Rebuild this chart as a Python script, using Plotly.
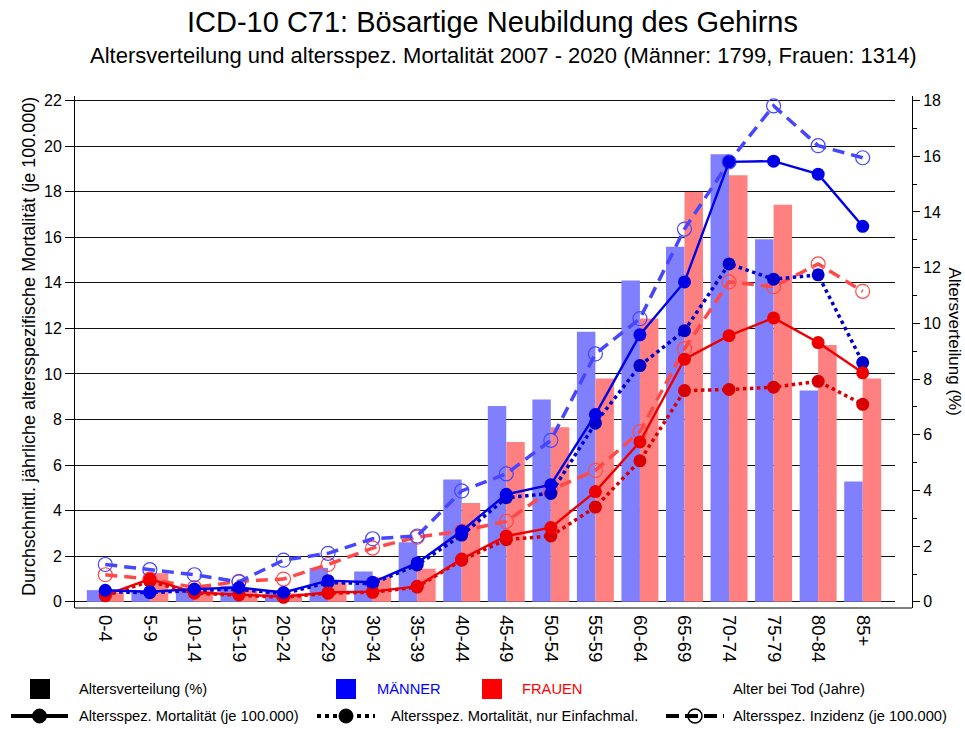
import plotly.graph_objects as go

categories = ["0-4", "5-9", "10-14", "15-19", "20-24", "25-29", "30-34", "35-39", "40-44",
              "45-49", "50-54", "55-59", "60-64", "65-69", "70-74", "75-79", "80-84", "85+"]

# Altersverteilung (%) - right axis
men_dist = [0.42, 0.38, 0.39, 0.58, 0.42, 1.22, 1.09, 2.14, 4.39, 7.03, 7.27, 9.70, 11.54, 12.75, 16.07, 13.02, 7.59, 4.32]
women_dist = [0.33, 1.03, 0.52, 0.45, 0.30, 0.70, 0.89, 1.19, 3.55, 5.74, 6.27, 8.02, 10.17, 14.72, 15.32, 14.26, 9.22, 8.02]

# Altersspez. Mortalitaet (je 100.000) - left axis
men_mort = [0.51, 0.44, 0.56, 0.63, 0.41, 0.93, 0.86, 1.71, 3.11, 4.72, 5.14, 8.22, 11.72, 14.04, 19.31, 19.34, 18.77, 16.48]
women_mort = [0.30, 1.00, 0.41, 0.33, 0.23, 0.41, 0.45, 0.68, 1.88, 2.89, 3.26, 4.84, 7.02, 10.65, 11.68, 12.46, 11.38, 10.05]

# Altersspez. Mortalitaet, nur Einfachmal.
men_single = [0.45, 0.40, 0.50, 0.55, 0.36, 0.85, 0.80, 1.62, 2.93, 4.57, 4.76, 7.84, 10.37, 11.90, 14.83, 14.16, 14.35, 10.50]
women_single = [0.27, 0.90, 0.38, 0.30, 0.20, 0.38, 0.42, 0.65, 1.83, 2.73, 2.89, 4.16, 6.19, 9.27, 9.32, 9.42, 9.68, 8.67]

# Altersspez. Inzidenz (je 100.000)
men_inc = [1.64, 1.41, 1.19, 0.88, 1.83, 2.13, 2.77, 2.89, 4.87, 5.62, 7.09, 10.88, 12.43, 16.36, 19.31, 21.77, 20.02, 19.49]
women_inc = [1.19, 1.00, 0.63, 0.90, 1.00, 1.64, 2.36, 2.84, 3.11, 3.53, 4.91, 5.77, 7.47, 11.11, 14.04, 13.83, 14.83, 13.63]

left_ticks = list(range(0, 23, 2))
right_ticks = list(range(0, 19, 2))

FONT = "Arial, Liberation Sans, sans-serif"
W, H = 965, 729
# plot area in window pixels: x 75..912, y 96..608
L = 75
R = W - 912
T = 96
B = H - 608
PW, PH = W - L - R, H - T - B


def px(xw):
    return (xw - 75) / PW


def py(yw):
    return (608 - yw) / PH


BLUE_BAR, RED_BAR = "#8080FF", "#FF8080"
BLUE, RED = "#0000E6", "#EE0000"
BLUE_DOT, RED_DOT = "#0000CC", "#D80000"
BLUE_DASH, RED_DASH = "#4646FF", "#FF4848"

fig = go.Figure()
fig.add_trace(go.Bar(x=categories, y=men_dist, marker=dict(color=BLUE_BAR, line=dict(width=0)),
                     yaxis="y", name="Männer"))
fig.add_trace(go.Bar(x=categories, y=women_dist, marker=dict(color=RED_BAR, line=dict(width=0)),
                     yaxis="y", name="Frauen"))


def line(y, color, dash, width, symbol, msize, mline):
    return go.Scatter(x=categories, y=y, yaxis="y2", mode="lines+markers",
                      line=dict(color=color, dash=dash, width=width),
                      marker=dict(symbol=symbol, size=msize, color=color,
                                  line=dict(color=color, width=mline)),
                      showlegend=False)


fig.add_trace(line(women_inc, RED_DASH, "12px,7px", 3.5, "circle-open", 14, 1.2))
fig.add_trace(line(men_inc, BLUE_DASH, "12px,7px", 3.5, "circle-open", 14, 1.2))
fig.add_trace(line(women_single, RED_DOT, "dot", 3.5, "circle", 13, 0))
fig.add_trace(line(men_single, BLUE_DOT, "dot", 3.5, "circle", 13, 0))
fig.add_trace(line(women_mort, RED, "solid", 2.4, "circle", 13, 0))
fig.add_trace(line(men_mort, BLUE, "solid", 2.4, "circle", 13, 0))

fig.update_layout(
    width=W, height=H,
    margin=dict(l=L, r=R, t=T, b=B),
    paper_bgcolor="white", plot_bgcolor="white",
    font=dict(family=FONT, color="black", size=15),
    barmode="group", bargap=0.17, bargroupgap=0,
    showlegend=False,
    xaxis=dict(domain=[0, px(895)], range=[-0.68, 17.725], type="category",
               tickangle=90, ticks="", showline=False, showgrid=False, ticklabelstandoff=6,
               tickfont=dict(size=18.5, family=FONT)),
    yaxis=dict(side="right", anchor="free", position=1, range=[-0.27 * 18 / 22, 22.2 * 18 / 22],
               tickvals=right_ticks, ticks="outside", ticklen=7, tickcolor="black",
               showline=True, linecolor="black", linewidth=1, showgrid=False, zeroline=False,
               minor=dict(dtick=1, tick0=0, ticks="outside", ticklen=4, tickcolor="black", showgrid=False),
               tickfont=dict(size=16, family=FONT)),
    yaxis2=dict(overlaying="y", side="left", anchor="x", range=[-0.27, 22.2],
                tickvals=left_ticks, ticks="outside", ticklen=9, tickcolor="black",
                showline=True, linecolor="black", linewidth=1,
                showgrid=True, gridcolor="#111111", gridwidth=1.2, zeroline=False,
                tickfont=dict(size=16, family=FONT)),
)

shapes = []
annotations = []

# bottom axis line across full plot width
shapes.append(dict(type="line", xref="paper", yref="paper", x0=0, x1=1, y0=0, y1=0,
                   line=dict(color="black", width=1)))

# titles
annotations.append(dict(text="ICD-10 C71: Bösartige Neubildung des Gehirns", xref="paper", yref="paper",
                        x=px(492), y=py(22), xanchor="center", yanchor="middle", showarrow=False,
                        font=dict(size=29, family=FONT)))
annotations.append(dict(text="Altersverteilung und altersspez. Mortalität 2007 - 2020 (Männer: 1799, Frauen: 1314)",
                        xref="paper", yref="paper", x=px(503), y=py(55), xanchor="center", yanchor="middle",
                        showarrow=False, font=dict(size=22, family=FONT)))
annotations.append(dict(text="Durchschnittl. jährliche altersspezifische Mortalität (je 100.000)",
                        xref="paper", yref="paper", x=px(29), y=py(347), xanchor="center", yanchor="middle",
                        textangle=-90, showarrow=False, font=dict(size=18, family=FONT)))
annotations.append(dict(text="Altersverteilung (%)", xref="paper", yref="paper", x=px(954.5), y=py(341),
                        xanchor="center", yanchor="middle", textangle=90, showarrow=False,
                        font=dict(size=17, family=FONT)))

# legend
def leg_text(txt, x, y, color="black"):
    annotations.append(dict(text=txt, xref="paper", yref="paper", x=px(x), y=py(y), xanchor="left",
                            yanchor="middle", showarrow=False, font=dict(size=14.7, family=FONT, color=color)))


def leg_square(xc, yc, color, s=20):
    shapes.append(dict(type="rect", xref="paper", yref="paper", x0=px(xc - s / 2), x1=px(xc + s / 2),
                       y0=py(yc + s / 2), y1=py(yc - s / 2), fillcolor=color, line=dict(width=0)))


def leg_line(x0, x1, y, dash, circle_fill):
    shapes.append(dict(type="line", xref="paper", yref="paper", x0=px(x0), x1=px(x1), y0=py(y), y1=py(y),
                       line=dict(color="black", width=4, dash=dash)))
    xc = (x0 + x1) / 2
    r = 7
    if circle_fill:
        shapes.append(dict(type="circle", xref="paper", yref="paper", x0=px(xc - r), x1=px(xc + r),
                           y0=py(y + r), y1=py(y - r), fillcolor="black", line=dict(color="black", width=1)))
    else:
        shapes.append(dict(type="circle", xref="paper", yref="paper", x0=px(xc - r), x1=px(xc + r),
                           y0=py(y + r), y1=py(y - r), fillcolor="rgba(0,0,0,0)",
                           line=dict(color="black", width=1.5)))


ROW1, ROW2 = 689, 716
leg_square(40, ROW1, "black")
leg_text("Altersverteilung (%)", 77, ROW1)
leg_square(346, ROW1, "#0000FF")
leg_text("MÄNNER", 375, ROW1, "#0000FF")
leg_square(492, ROW1, "#FF0000")
leg_text("FRAUEN", 520, ROW1, "#FF0000")
leg_text("Alter bei Tod (Jahre)", 731, ROW1)

leg_line(11, 68, ROW2, "solid", True)
leg_text("Altersspez. Mortalität (je 100.000)", 77, ROW2)
leg_line(317, 375, ROW2, "dot", True)
leg_text("Altersspez. Mortalität, nur Einfachmal.", 389, ROW2)
leg_line(666, 724, ROW2, "13px,6px", False)
leg_text("Altersspez. Inzidenz (je 100.000)", 731, ROW2)

fig.update_layout(shapes=shapes, annotations=annotations)
fig.write_html("out.html", config={"displayModeBar": False},
               post_script="document.body.style.margin='0px';")
